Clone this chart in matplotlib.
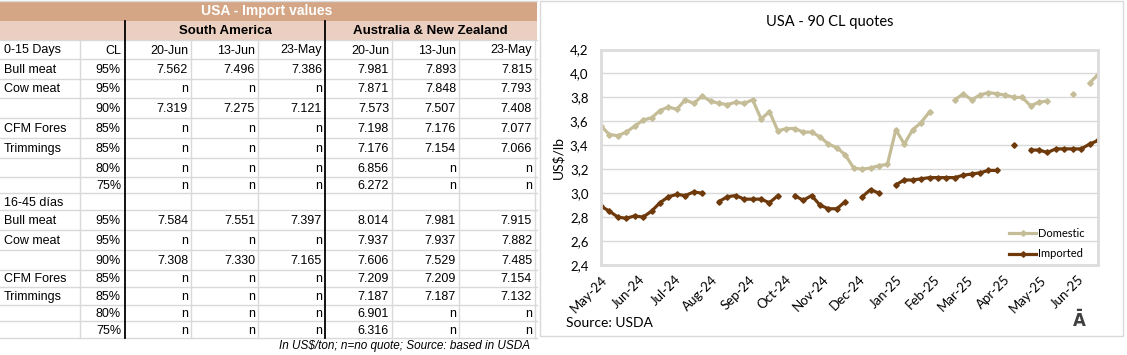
import numpy as np
import pandas as pd
import matplotlib
matplotlib.use("Agg")
import matplotlib.pyplot as plt
from matplotlib.patches import Rectangle

nan = np.nan

# ---------------- Table data ----------------
table_title = "USA - Import values"
region_headers = ["South America", "Australia & New Zealand"]
date_headers = ["20-Jun", "13-Jun", "23-May"]
row_labels = ["0-15 Days", "Bull meat", "Cow meat", "", "CFM Fores", "Trimmings", "", "",
              "16-45 días", "Bull meat", "Cow meat", "", "CFM Fores", "Trimmings", "", ""]
cl_labels = ["CL", "95%", "95%", "90%", "85%", "85%", "80%", "75%",
             "", "95%", "95%", "90%", "85%", "85%", "80%", "75%"]
south_america = [None,
                 ["7.562", "7.496", "7.386"],
                 ["n", "n", "n"],
                 ["7.319", "7.275", "7.121"],
                 ["n", "n", "n"],
                 ["n", "n", "n"],
                 ["n", "n", "n"],
                 ["n", "n", "n"],
                 ["", "", ""],
                 ["7.584", "7.551", "7.397"],
                 ["n", "n", "n"],
                 ["7.308", "7.330", "7.165"],
                 ["n", "n", "n"],
                 ["n", "n", "n"],
                 ["n", "n", "n"],
                 ["n", "n", "n"]]
aus_nz = [None,
          ["7.981", "7.893", "7.815"],
          ["7.871", "7.848", "7.793"],
          ["7.573", "7.507", "7.408"],
          ["7.198", "7.176", "7.077"],
          ["7.176", "7.154", "7.066"],
          ["6.856", "n", "n"],
          ["6.272", "n", "n"],
          ["", "", ""],
          ["8.014", "7.981", "7.915"],
          ["7.937", "7.937", "7.882"],
          ["7.606", "7.529", "7.485"],
          ["7.209", "7.209", "7.154"],
          ["7.187", "7.187", "7.132"],
          ["6.901", "n", "n"],
          ["6.316", "n", "n"]]
footnote = "In US$/ton; n=no quote; Source: based in USDA"

# ---------------- Chart data ----------------
chart_title = "USA - 90 CL quotes"
week_start = "2024-05-03"
domestic = [3.56, 3.49, 3.48, 3.51, 3.56, 3.61, 3.63, 3.69, 3.72, 3.70,
            3.78, 3.75, 3.81, 3.77, 3.75, 3.74, 3.76, 3.75, 3.78, 3.62,
            3.68, 3.52, 3.54, 3.54, 3.51, 3.51, 3.47, 3.41, 3.38, 3.32,
            3.21, 3.20, 3.21, 3.23, 3.24, 3.53, 3.41, 3.53, 3.59, 3.68,
            nan, nan, 3.78, 3.83, 3.78, 3.82, 3.84, 3.83, 3.82, 3.80,
            3.80, 3.73, 3.76, 3.77, nan, nan, 3.83, nan, 3.92, 3.99]
imported = [2.89, 2.85, 2.80, 2.79, 2.81, 2.80, 2.85, 2.92, 2.97, 2.99,
            2.98, 3.01, 3.00, nan, 2.93, 2.97, 2.98, 2.95, 2.95, 2.95,
            2.92, 2.98, nan, 2.98, 2.94, 2.98, 2.90, 2.87, 2.87, 2.93,
            nan, 2.97, 3.03, 3.00, nan, 3.07, 3.11, 3.11, 3.12, 3.13,
            3.13, 3.13, 3.13, 3.15, 3.16, 3.17, 3.19, 3.19, nan, 3.40,
            nan, 3.36, 3.36, 3.34, 3.37, 3.37, 3.37, 3.37, 3.41, 3.44]
series_names = ["Domestic", "Imported"]
y_label = "US$/lb"
source_text = "Source: USDA"

dates = pd.date_range(week_start, periods=len(domestic), freq="7D")
month_ticks = pd.date_range(week_start, dates[-1], freq=pd.DateOffset(months=1))

# ---------------- Figure ----------------
W, H = 1127, 355
fig = plt.figure(figsize=(W / 100, H / 100), dpi=100)
bg = fig.add_axes([0, 0, 1, 1])
bg.set_xlim(0, W)
bg.set_ylim(H, 0)
bg.axis("off")

TFONT = "Liberation Sans"
CFONT = "Lato"
grid_c = "#D9D9D9"

# table layout (pixels)
col_edges = [0, 80, 125, 191, 258, 325, 392, 459, 535]
row_edges = [40, 59, 79, 98, 118, 138, 158, 177, 193, 210, 230, 250, 270, 287, 305, 321, 338]
table_right = 537

bg.add_patch(Rectangle((0, 1), table_right, 20, facecolor="#D4A685", edgecolor="none"))
bg.add_patch(Rectangle((0, 21), table_right, 19, facecolor="#EBD0C1", edgecolor="none"))
bg.plot([0, table_right], [0.5, 0.5], color=grid_c, lw=1)
bg.text(267, 11.5, table_title, ha="center", va="center",
        fontsize=10, fontweight="bold", color="white", family=TFONT)
bg.text((col_edges[2] + col_edges[5]) / 2, 31, region_headers[0], ha="center", va="center",
        fontsize=9.5, fontweight="bold", color="black", family=TFONT)
bg.text((col_edges[5] + col_edges[8]) / 2, 31, region_headers[1], ha="center", va="center",
        fontsize=9.5, fontweight="bold", color="black", family=TFONT)

# grid lines
for y in row_edges:
    bg.plot([0, table_right], [y, y], color=grid_c, lw=1)
for x in col_edges[1:]:
    if x in (125, 325):
        continue
    bg.plot([x, x], [row_edges[0], row_edges[-1]], color=grid_c, lw=1)
for x in (125, 325):
    bg.plot([x, x], [21, row_edges[-1]], color="black", lw=1.3)

fs = 9
for r in range(len(row_labels)):
    yc = (row_edges[r] + row_edges[r + 1]) / 2 + 1
    bg.text(4, yc, row_labels[r], ha="left", va="center", fontsize=fs, family=TFONT)
    bg.text(col_edges[2] - 4, yc, cl_labels[r], ha="right", va="center", fontsize=fs, family=TFONT)
    if r == 0:
        sa_vals = date_headers
        an_vals = date_headers
    else:
        sa_vals = south_america[r]
        an_vals = aus_nz[r]
    for j in range(3):
        bg.text(col_edges[3 + j] - 3, yc, sa_vals[j], ha="right", va="center", fontsize=fs, family=TFONT)
        bg.text(col_edges[6 + j] - 3, yc, an_vals[j], ha="right", va="center", fontsize=fs, family=TFONT)

bg.text(530, 346, footnote, ha="right", va="center", fontsize=8.5, style="italic", family=TFONT)

# chart panel border
bg.add_patch(Rectangle((540, 1), 583, 335, facecolor="none", edgecolor=grid_c, lw=1))

# ---------------- Chart ----------------
pl, pr, pt, pb = 601, 1098, 49.5, 265
ax = fig.add_axes([pl / W, 1 - pb / H, (pr - pl) / W, (pb - pt) / H])
dom_c = "#C4BD97"
imp_c = "#6E3A0C"
ax.plot(dates, domestic, color=dom_c, lw=2.3, marker="D", ms=2.8, label=series_names[0])
ax.plot(dates, imported, color=imp_c, lw=2.3, marker="D", ms=2.8, label=series_names[1])

ax.set_ylim(2.4, 4.2)
yt = np.arange(2.4, 4.21, 0.2)
ax.set_yticks(yt)
ax.set_yticklabels([f"{v:.1f}".replace(".", ",") for v in yt], family=CFONT, fontsize=9.5)
ax.set_xlim(dates[0], dates[-1])
ax.set_xticks(month_ticks)
ax.set_xticklabels([d.strftime("%b-%y") for d in month_ticks], rotation=45, ha="right",
                   rotation_mode="anchor", family=CFONT, fontsize=9.5)
ax.tick_params(axis="both", length=0)
ax.tick_params(axis="y", pad=9)
ax.tick_params(axis="x", pad=6)
ax.grid(axis="y", color=grid_c, lw=1)
ax.set_axisbelow(True)
for s in ax.spines.values():
    s.set_color("#DCDCDC")
    s.set_linewidth(2)
ax.set_ylabel(y_label, family=CFONT, fontsize=10, labelpad=4)

leg = ax.legend(loc="lower right", bbox_to_anchor=(0.985, 0.0), frameon=False,
                prop={"family": CFONT, "size": 8}, handlelength=2.4, handletextpad=0.2,
                labelspacing=0.85, borderpad=0)

fig.text(830 / W, 1 - 22 / H, chart_title, ha="center", va="center", family=CFONT, fontsize=10.5)
fig.text(566 / W, 1 - 323 / H, source_text, ha="left", va="center", family=CFONT, fontsize=10)
fig.text(1079 / W, 1 - 321 / H, "Ā", ha="center", va="center", family="DejaVu Sans",
         fontsize=12, fontweight="bold", color="#404040")

fig.savefig("out.png", dpi=100)
